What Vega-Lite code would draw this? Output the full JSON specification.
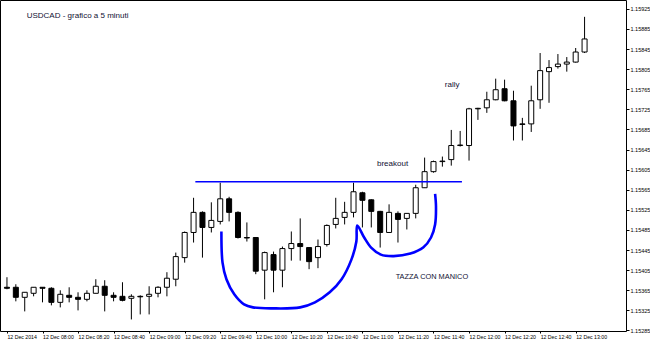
{
  "$schema": "https://vega.github.io/schema/vega-lite/v6.json",
  "width": 626,
  "height": 331,
  "autosize": "none",
  "padding": {"left": 0, "top": 0, "right": 24, "bottom": 12},
  "background": "white",
  "config": {
    "view": {"stroke": "black", "strokeWidth": 1},
    "font": "Liberation Sans",
    "axis": {"labelOverlap": false, "labelFlush": false, "labelBound": false, "grid": false, "domain": false, "title": null}
  },
  "datasets": {
    "candles": [
      {"t": "2014-12-12T07:40", "open": 1.15371, "high": 1.15391, "low": 1.15367, "close": 1.15369},
      {"t": "2014-12-12T07:45", "open": 1.15371, "high": 1.15377, "low": 1.15343, "close": 1.15351},
      {"t": "2014-12-12T07:50", "open": 1.15351, "high": 1.15361, "low": 1.15323, "close": 1.15361},
      {"t": "2014-12-12T07:55", "open": 1.15359, "high": 1.15371, "low": 1.15353, "close": 1.15371},
      {"t": "2014-12-12T08:00", "open": 1.15371, "high": 1.15371, "low": 1.15341, "close": 1.15369},
      {"t": "2014-12-12T08:05", "open": 1.15369, "high": 1.15371, "low": 1.15335, "close": 1.15341},
      {"t": "2014-12-12T08:10", "open": 1.15341, "high": 1.15365, "low": 1.15331, "close": 1.15357},
      {"t": "2014-12-12T08:15", "open": 1.15355, "high": 1.15371, "low": 1.15341, "close": 1.15351},
      {"t": "2014-12-12T08:20", "open": 1.15351, "high": 1.15361, "low": 1.15325, "close": 1.15347},
      {"t": "2014-12-12T08:25", "open": 1.15347, "high": 1.15365, "low": 1.15343, "close": 1.15359},
      {"t": "2014-12-12T08:30", "open": 1.15359, "high": 1.15387, "low": 1.15359, "close": 1.15373},
      {"t": "2014-12-12T08:35", "open": 1.15373, "high": 1.15385, "low": 1.15323, "close": 1.15355},
      {"t": "2014-12-12T08:40", "open": 1.15355, "high": 1.15361, "low": 1.15343, "close": 1.15351},
      {"t": "2014-12-12T08:45", "open": 1.15353, "high": 1.15381, "low": 1.15343, "close": 1.15345},
      {"t": "2014-12-12T08:50", "open": 1.15349, "high": 1.15357, "low": 1.15307, "close": 1.15353},
      {"t": "2014-12-12T08:55", "open": 1.15353, "high": 1.15355, "low": 1.15317, "close": 1.15352},
      {"t": "2014-12-12T09:00", "open": 1.15353, "high": 1.15373, "low": 1.15317, "close": 1.15357},
      {"t": "2014-12-12T09:05", "open": 1.15359, "high": 1.15373, "low": 1.15351, "close": 1.15371},
      {"t": "2014-12-12T09:10", "open": 1.15371, "high": 1.15401, "low": 1.15353, "close": 1.15389},
      {"t": "2014-12-12T09:15", "open": 1.15387, "high": 1.15440, "low": 1.15373, "close": 1.15432},
      {"t": "2014-12-12T09:20", "open": 1.15430, "high": 1.15482, "low": 1.15420, "close": 1.15480},
      {"t": "2014-12-12T09:25", "open": 1.15480, "high": 1.15549, "low": 1.15460, "close": 1.15520},
      {"t": "2014-12-12T09:30", "open": 1.15520, "high": 1.15522, "low": 1.15430, "close": 1.15490},
      {"t": "2014-12-12T09:35", "open": 1.15490, "high": 1.15540, "low": 1.15480, "close": 1.15504},
      {"t": "2014-12-12T09:40", "open": 1.15502, "high": 1.15579, "low": 1.15496, "close": 1.15547},
      {"t": "2014-12-12T09:45", "open": 1.15547, "high": 1.15551, "low": 1.15502, "close": 1.15520},
      {"t": "2014-12-12T09:50", "open": 1.15520, "high": 1.15522, "low": 1.15468, "close": 1.15470},
      {"t": "2014-12-12T09:55", "open": 1.15470, "high": 1.15500, "low": 1.15462, "close": 1.15469},
      {"t": "2014-12-12T10:00", "open": 1.15470, "high": 1.15471, "low": 1.15397, "close": 1.15403},
      {"t": "2014-12-12T10:05", "open": 1.15405, "high": 1.15442, "low": 1.15347, "close": 1.15440},
      {"t": "2014-12-12T10:10", "open": 1.15436, "high": 1.15442, "low": 1.15361, "close": 1.15405},
      {"t": "2014-12-12T10:15", "open": 1.15405, "high": 1.15452, "low": 1.15371, "close": 1.15448},
      {"t": "2014-12-12T10:20", "open": 1.15448, "high": 1.15482, "low": 1.15424, "close": 1.15458},
      {"t": "2014-12-12T10:25", "open": 1.15458, "high": 1.15508, "low": 1.15424, "close": 1.15452},
      {"t": "2014-12-12T10:30", "open": 1.15450, "high": 1.15451, "low": 1.15407, "close": 1.15422},
      {"t": "2014-12-12T10:35", "open": 1.15430, "high": 1.15466, "low": 1.15409, "close": 1.15452},
      {"t": "2014-12-12T10:40", "open": 1.15456, "high": 1.15496, "low": 1.15452, "close": 1.15494},
      {"t": "2014-12-12T10:45", "open": 1.15496, "high": 1.15549, "low": 1.15488, "close": 1.15508},
      {"t": "2014-12-12T10:50", "open": 1.15510, "high": 1.15541, "low": 1.15496, "close": 1.15520},
      {"t": "2014-12-12T10:55", "open": 1.15520, "high": 1.15579, "low": 1.15510, "close": 1.15561},
      {"t": "2014-12-12T11:00", "open": 1.15559, "high": 1.15561, "low": 1.15490, "close": 1.15544},
      {"t": "2014-12-12T11:05", "open": 1.15545, "high": 1.15546, "low": 1.15490, "close": 1.15522},
      {"t": "2014-12-12T11:10", "open": 1.15522, "high": 1.15523, "low": 1.15450, "close": 1.15480},
      {"t": "2014-12-12T11:15", "open": 1.15480, "high": 1.15536, "low": 1.15480, "close": 1.15520},
      {"t": "2014-12-12T11:20", "open": 1.15518, "high": 1.15522, "low": 1.15460, "close": 1.15506},
      {"t": "2014-12-12T11:25", "open": 1.15508, "high": 1.15518, "low": 1.15486, "close": 1.15518},
      {"t": "2014-12-12T11:30", "open": 1.15518, "high": 1.15575, "low": 1.15508, "close": 1.15569},
      {"t": "2014-12-12T11:35", "open": 1.15569, "high": 1.15629, "low": 1.15569, "close": 1.15601},
      {"t": "2014-12-12T11:40", "open": 1.15601, "high": 1.15623, "low": 1.15599, "close": 1.15621},
      {"t": "2014-12-12T11:45", "open": 1.15621, "high": 1.15631, "low": 1.15611, "close": 1.15622},
      {"t": "2014-12-12T11:50", "open": 1.15625, "high": 1.15684, "low": 1.15613, "close": 1.15653},
      {"t": "2014-12-12T11:55", "open": 1.15653, "high": 1.15682, "low": 1.15651, "close": 1.15654},
      {"t": "2014-12-12T12:00", "open": 1.15653, "high": 1.15728, "low": 1.15623, "close": 1.15726},
      {"t": "2014-12-12T12:05", "open": 1.15726, "high": 1.15728, "low": 1.15704, "close": 1.15727},
      {"t": "2014-12-12T12:10", "open": 1.15728, "high": 1.15760, "low": 1.15718, "close": 1.15744},
      {"t": "2014-12-12T12:15", "open": 1.15744, "high": 1.15786, "low": 1.15743, "close": 1.15764},
      {"t": "2014-12-12T12:20", "open": 1.15766, "high": 1.15784, "low": 1.15741, "close": 1.15742},
      {"t": "2014-12-12T12:25", "open": 1.15742, "high": 1.15762, "low": 1.15663, "close": 1.15692},
      {"t": "2014-12-12T12:30", "open": 1.15696, "high": 1.15708, "low": 1.15663, "close": 1.15695},
      {"t": "2014-12-12T12:35", "open": 1.15696, "high": 1.15772, "low": 1.15680, "close": 1.15742},
      {"t": "2014-12-12T12:40", "open": 1.15744, "high": 1.15837, "low": 1.15726, "close": 1.15802},
      {"t": "2014-12-12T12:45", "open": 1.15800, "high": 1.15823, "low": 1.15738, "close": 1.15808},
      {"t": "2014-12-12T12:50", "open": 1.15810, "high": 1.15835, "low": 1.15806, "close": 1.15815},
      {"t": "2014-12-12T12:55", "open": 1.15815, "high": 1.15829, "low": 1.15800, "close": 1.15819},
      {"t": "2014-12-12T13:00", "open": 1.15819, "high": 1.15847, "low": 1.15818, "close": 1.15839},
      {"t": "2014-12-12T13:05", "open": 1.15839, "high": 1.15909, "low": 1.15837, "close": 1.15865}
    ],
    "level": [
      {"t1": "2014-12-12T09:26", "t2": "2014-12-12T11:56", "price": 1.15581}
    ],
    "cup": [
      {"k": 1, "t": "2014-12-12T09:40:40", "price": 1.15482},
      {"k": 2, "t": "2014-12-12T09:41:18", "price": 1.15420},
      {"k": 3, "t": "2014-12-12T09:43:30", "price": 1.15387},
      {"k": 4, "t": "2014-12-12T09:47:54", "price": 1.15357},
      {"k": 5, "t": "2014-12-12T09:53:24", "price": 1.15337},
      {"k": 6, "t": "2014-12-12T09:58:24", "price": 1.15331},
      {"k": 7, "t": "2014-12-12T10:09:30", "price": 1.15329},
      {"k": 8, "t": "2014-12-12T10:25:00", "price": 1.15331},
      {"k": 9, "t": "2014-12-12T10:33:18", "price": 1.15341},
      {"k": 10, "t": "2014-12-12T10:41:36", "price": 1.15361},
      {"k": 11, "t": "2014-12-12T10:48:18", "price": 1.15387},
      {"k": 12, "t": "2014-12-12T10:53:48", "price": 1.15426},
      {"k": 13, "t": "2014-12-12T10:56:36", "price": 1.15462},
      {"k": 14, "t": "2014-12-12T10:57:06", "price": 1.15494},
      {"k": 15, "t": "2014-12-12T11:01:00", "price": 1.15470},
      {"k": 16, "t": "2014-12-12T11:04:54", "price": 1.15450},
      {"k": 17, "t": "2014-12-12T11:10:24", "price": 1.15436},
      {"k": 18, "t": "2014-12-12T11:17:36", "price": 1.15433},
      {"k": 19, "t": "2014-12-12T11:27:00", "price": 1.15438},
      {"k": 20, "t": "2014-12-12T11:34:12", "price": 1.15450},
      {"k": 21, "t": "2014-12-12T11:38:36", "price": 1.15470},
      {"k": 22, "t": "2014-12-12T11:40:54", "price": 1.15496},
      {"k": 23, "t": "2014-12-12T11:41:24", "price": 1.15532},
      {"k": 24, "t": "2014-12-12T11:40:54", "price": 1.15557}
    ],
    "notes": [
      {"label": "USDCAD - grafico a 5 minuti", "t": "2014-12-12T07:51:06", "price": 1.15911, "size": "l"},
      {"label": "rally", "t": "2014-12-12T11:46:24", "price": 1.15774, "size": "l"},
      {"label": "breakout", "t": "2014-12-12T11:08:12", "price": 1.15617, "size": "l"},
      {"label": "TAZZA CON MANICO", "t": "2014-12-12T11:18:42", "price": 1.15391, "size": "s"}
    ]
  },
  "layer": [
    {
      "data": {"name": "candles"},
      "mark": {"type": "rule", "color": "black", "strokeWidth": 1, "clip": true},
      "encoding": {
        "x": {
          "field": "t", "type": "temporal",
          "scale": {
            "domain": [
              {"year": 2014, "month": 12, "date": 12, "hours": 7, "minutes": 38, "seconds": 54},
              {"year": 2014, "month": 12, "date": 12, "hours": 13, "minutes": 25, "seconds": 30}
            ]
          },
          "axis": {
            "orient": "bottom",
            "ticks": true,
            "tickSize": 2,
            "tickColor": "black",
            "tickCount": 100,
            "labelAlign": "left",
            "labelBaseline": "top",
            "labelPadding": 1,
            "labelFontSize": 5.2,
            "labelColor": "black",
            "labelOverlap": false,
            "values": [
              {"year": 2014, "month": 12, "date": 12, "hours": 7, "minutes": 40},
              {"year": 2014, "month": 12, "date": 12, "hours": 8, "minutes": 0},
              {"year": 2014, "month": 12, "date": 12, "hours": 8, "minutes": 20},
              {"year": 2014, "month": 12, "date": 12, "hours": 8, "minutes": 40},
              {"year": 2014, "month": 12, "date": 12, "hours": 9, "minutes": 0},
              {"year": 2014, "month": 12, "date": 12, "hours": 9, "minutes": 20},
              {"year": 2014, "month": 12, "date": 12, "hours": 9, "minutes": 40},
              {"year": 2014, "month": 12, "date": 12, "hours": 10, "minutes": 0},
              {"year": 2014, "month": 12, "date": 12, "hours": 10, "minutes": 20},
              {"year": 2014, "month": 12, "date": 12, "hours": 10, "minutes": 40},
              {"year": 2014, "month": 12, "date": 12, "hours": 11, "minutes": 0},
              {"year": 2014, "month": 12, "date": 12, "hours": 11, "minutes": 20},
              {"year": 2014, "month": 12, "date": 12, "hours": 11, "minutes": 40},
              {"year": 2014, "month": 12, "date": 12, "hours": 12, "minutes": 0},
              {"year": 2014, "month": 12, "date": 12, "hours": 12, "minutes": 20},
              {"year": 2014, "month": 12, "date": 12, "hours": 12, "minutes": 40},
              {"year": 2014, "month": 12, "date": 12, "hours": 13, "minutes": 0}
            ],
            "labelExpr": "hours(datum.value) == 7 ? '12 Dec 2014' : '12 Dec ' + timeFormat(datum.value, '%H:%M')"
          }
        },
        "y": {
          "field": "low", "type": "quantitative",
          "scale": {"domain": [1.15284, 1.159425], "zero": false, "nice": false},
          "axis": {
            "orient": "right",
            "tickSize": 3,
            "tickColor": "black",
            "tickCount": 100,
            "labelPadding": 1,
            "labelFontSize": 5.5,
            "labelColor": "black",
            "labelOverlap": false,
            "format": ".5f",
            "values": [1.15285, 1.15325, 1.15365, 1.15405, 1.15445, 1.15485, 1.15525, 1.15565, 1.15605, 1.15645, 1.15685, 1.15725, 1.15765, 1.15805, 1.15845, 1.15885, 1.15925]
          }
        },
        "y2": {"field": "high"}
      }
    },
    {
      "data": {"name": "candles"},
      "mark": {"type": "bar", "size": 5, "stroke": "black", "strokeWidth": 1, "clip": true},
      "encoding": {
        "x": {"field": "t", "type": "temporal"},
        "y": {"field": "open", "type": "quantitative"},
        "y2": {"field": "close"},
        "fill": {"condition": {"test": "datum.close < datum.open", "value": "black"}, "value": "white"}
      }
    },
    {
      "data": {"name": "level"},
      "mark": {"type": "rule", "color": "#0000ff", "strokeWidth": 1.6, "clip": true},
      "encoding": {
        "x": {"field": "t1", "type": "temporal"},
        "x2": {"field": "t2"},
        "y": {"field": "price", "type": "quantitative"}
      }
    },
    {
      "data": {"name": "cup"},
      "mark": {"type": "line", "color": "#0000ff", "strokeWidth": 2.6, "interpolate": "catmull-rom", "clip": true},
      "encoding": {
        "x": {"field": "t", "type": "temporal"},
        "y": {"field": "price", "type": "quantitative"},
        "order": {"field": "k", "type": "quantitative"}
      }
    },
    {
      "data": {"name": "notes"},
      "mark": {"type": "text", "align": "left", "baseline": "middle", "color": "#111133", "font": "Liberation Sans"},
      "encoding": {
        "x": {"field": "t", "type": "temporal"},
        "y": {"field": "price", "type": "quantitative"},
        "text": {"field": "label"},
        "size": {"condition": {"test": "datum.size == 's'", "value": 7.4}, "value": 8}
      }
    }
  ]
}
